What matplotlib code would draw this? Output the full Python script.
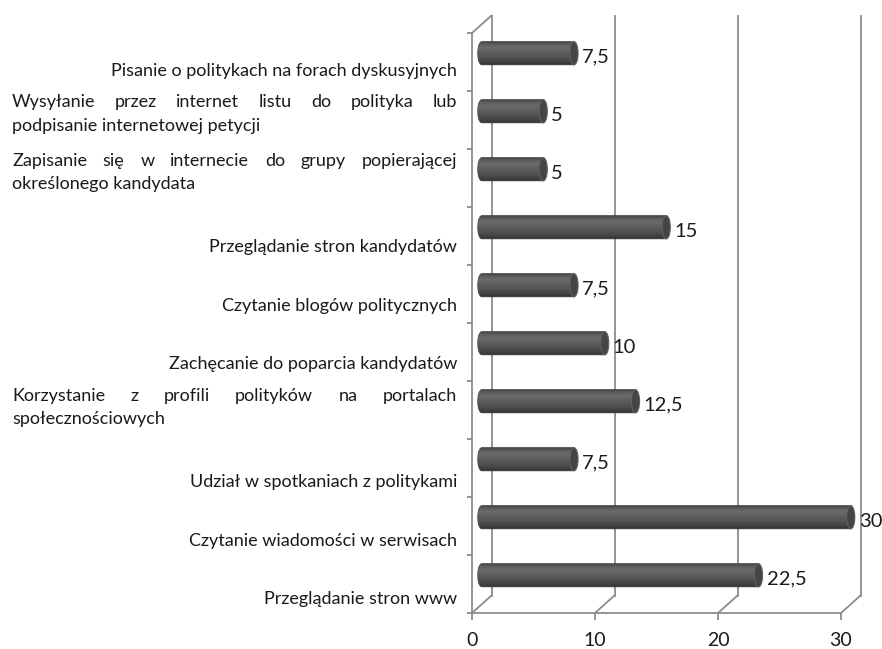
import numpy as np
import matplotlib
matplotlib.use("Agg")
import matplotlib.pyplot as plt
import matplotlib.transforms as mtransforms
from matplotlib.patches import Ellipse, PathPatch, ConnectionPatch
from matplotlib.path import Path
from matplotlib.colors import LinearSegmentedColormap

# categories listed bottom -> top, with the line breaks used in the original
categories = [
    ["Przeglądanie stron www"],
    ["Czytanie wiadomości w serwisach"],
    ["Udział w spotkaniach z politykami"],
    ["Korzystanie z profili polityków na portalach", "społecznościowych"],
    ["Zachęcanie do poparcia kandydatów"],
    ["Czytanie blogów politycznych"],
    ["Przeglądanie stron kandydatów"],
    ["Zapisanie się w internecie do grupy popierającej", "określonego kandydata"],
    ["Wysyłanie przez internet listu do polityka lub", "podpisanie internetowej petycji"],
    ["Pisanie o politykach na forach dyskusyjnych"],
]
values = [22.5, 30, 7.5, 12.5, 10, 7.5, 15, 5, 5, 7.5]
x_ticks = [0, 10, 20, 30]

DPI = 100
FONT = "Lato"
TEXT_COLOR = "#1a1a1a"
GRID_COLOR = "#8c8c8c"

fig = plt.figure(figsize=(8.82, 6.49), dpi=DPI)
ax = fig.add_axes([472 / 882, 36 / 649, 369 / 882, 580 / 649])
n = len(values)


def shift(dx, dy):
    """Offset in pixels, used for the fake 3D depth."""
    return mtransforms.ScaledTranslation(dx / DPI, dy / DPI, fig.dpi_scale_trans)


back = ax.transData + shift(19.5, 17.5)   # back wall plane
mid = ax.transData + shift(9.75, 8.75)    # plane of the cylinders

# back wall grid lines
for x in x_ticks:
    ax.plot([x, x], [0, n], transform=back, color=GRID_COLOR, lw=1.3,
            clip_on=False, zorder=1)
    # floor diagonals
    fig.add_artist(ConnectionPatch((x, 0), (x, 0), coordsA=ax.transData,
                                   coordsB=back, color=GRID_COLOR, lw=1.3,
                                   zorder=1))
fig.add_artist(ConnectionPatch((0, n), (0, n), coordsA=ax.transData,
                               coordsB=back, color=GRID_COLOR, lw=1.3, zorder=1))

# cylinders
h = 0.4
a = 0.33
cmap = LinearSegmentedColormap.from_list(
    "cyl", [(0.0, "#2d2d2d"), (0.08, "#3e3e3e"), (0.25, "#4e4e4e"),
            (0.5, "#5d5d5d"), (0.72, "#6c6c6c"), (0.88, "#5c5c5c"),
            (1.0, "#3e3e3e")])
grad = np.linspace(0, 1, 64)[:, None]
t = np.linspace(np.pi / 2, 3 * np.pi / 2, 40)

for j, v in enumerate(values):
    yc = j + 0.5
    verts = np.column_stack([a * np.cos(t), yc + h / 2 * np.sin(t)])
    verts = np.vstack([verts, [[v, yc - h / 2], [v, yc + h / 2]], verts[:1]])
    body = PathPatch(Path(verts, closed=True), transform=mid, facecolor="none",
                     edgecolor="#3a3a3a", lw=0.5, zorder=3.5, clip_on=False)
    ax.add_patch(body)
    im = ax.imshow(grad, extent=(-a, v, yc - h / 2, yc + h / 2), origin="lower",
                   cmap=cmap, aspect="auto", interpolation="bicubic",
                   transform=mid, zorder=3)
    im.set_clip_box(fig.bbox)
    im.set_clip_path(body)
    ax.add_patch(Ellipse((v, yc), 2 * a, h, transform=mid, facecolor="#454545",
                         edgecolor="#606060", lw=0.8, zorder=4, clip_on=False))
    ax.text(v + a, yc, f"{v:g}".replace(".", ","), transform=mid + shift(4, -4),
            ha="left", va="center", fontsize=14.5, family=FONT, color=TEXT_COLOR,
            clip_on=False)

ax.set_xlim(0, 30)
ax.set_ylim(0, n)
ax.set_facecolor("none")
for side in ["top", "right"]:
    ax.spines[side].set_visible(False)
for side in ["left", "bottom"]:
    ax.spines[side].set_color(GRID_COLOR)
    ax.spines[side].set_linewidth(1.3)
ax.set_xticks(x_ticks)
ax.set_xticklabels([str(x) for x in x_ticks], fontsize=14, family=FONT,
                   color=TEXT_COLOR)
ax.set_yticks(range(n + 1))
ax.set_yticklabels([])
ax.tick_params(axis="x", length=5, width=1.3, color=GRID_COLOR, pad=9)
ax.tick_params(axis="y", length=3.5, width=1.3, color=GRID_COLOR)

# category labels (right aligned, two-line ones justified like in Word/Excel)
lab = mtransforms.blended_transform_factory(ax.transAxes, ax.transData)
renderer = fig.canvas.get_renderer()
LEFT_PX, RIGHT_PX, LINE_PX = -460, -15, 23.5
txt_kw = dict(fontsize=13, family=FONT, color=TEXT_COLOR, va="center",
              clip_on=False)

for j, lines in enumerate(categories):
    yc = j + 0.5
    k = n - 1 - j
    if len(lines) == 1:
        dy = -(9 + 0.7 * k)
        ax.text(0, yc, lines[0], transform=lab + shift(RIGHT_PX, dy),
                ha="right", **txt_kw)
        continue
    dy = -(5 + 0.7 * k)
    ax.text(0, yc, lines[1], transform=lab + shift(LEFT_PX, dy), ha="left",
            **txt_kw)
    words = lines[0].split()
    texts = [ax.text(0, yc, w, transform=lab, ha="left", **txt_kw) for w in words]
    widths = [tx.get_window_extent(renderer=renderer).width for tx in texts]
    gap = (RIGHT_PX - LEFT_PX - sum(widths)) / (len(words) - 1)
    x = LEFT_PX
    for tx, w in zip(texts, widths):
        tx.set_transform(lab + shift(x, dy + LINE_PX))
        x += w + gap

fig.savefig("out.png", dpi=DPI)
